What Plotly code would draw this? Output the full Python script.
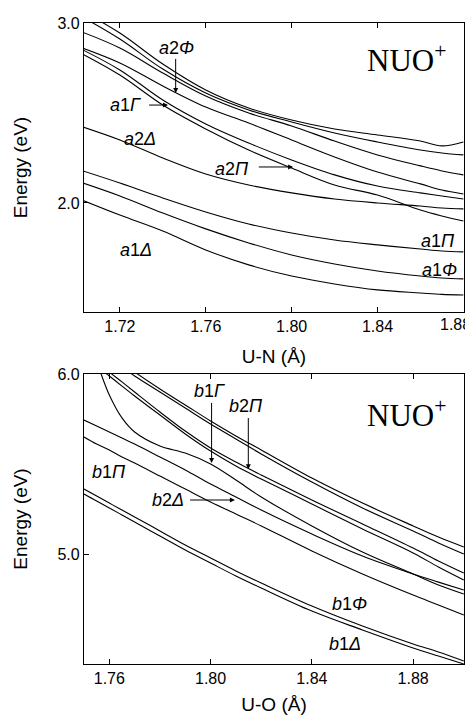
import plotly.graph_objects as go

# ---------------- data: top panel (U-N) ----------------
x_top = [1.700, 1.72, 1.74, 1.76, 1.78, 1.80, 1.82, 1.84, 1.86, 1.87, 1.88]
top_T1 = [3.083, 2.944, 2.772, 2.628, 2.528, 2.461, 2.411, 2.378, 2.344, 2.317, 2.339]
top_T2 = [3.050, 2.911, 2.744, 2.611, 2.517, 2.450, 2.389, 2.339, 2.294, 2.278, 2.267]
top_T3 = [2.961, 2.861, 2.722, 2.594, 2.500, 2.428, 2.344, 2.267, 2.206, 2.178, 2.156]
top_a2Phi = [2.872, 2.778, 2.650, 2.533, 2.444, 2.350, 2.256, 2.172, 2.106, 2.072, 2.050]
top_a1Gam_1 = [2.867, 2.739, 2.572, 2.439, 2.333, 2.239, 2.156, 2.094, 2.056, 2.039, 2.022]
top_a1Gam_2 = [2.844, 2.711, 2.544, 2.411, 2.294, 2.194, 2.100, 2.044, 1.961, 1.928, 1.900]
top_a2Del = [2.433, 2.350, 2.250, 2.161, 2.100, 2.056, 2.022, 2.000, 1.983, 1.972, 1.967]
top_a1Pi = [2.189, 2.111, 2.028, 1.950, 1.883, 1.833, 1.794, 1.767, 1.744, 1.733, 1.728]
top_a1Phi = [2.122, 2.039, 1.944, 1.856, 1.778, 1.711, 1.661, 1.622, 1.594, 1.583, 1.578]
top_a1Del = [2.028, 1.933, 1.844, 1.739, 1.656, 1.594, 1.550, 1.517, 1.500, 1.492, 1.489]
top_series = [top_T1, top_T2, top_T3, top_a2Phi, top_a1Gam_1, top_a1Gam_2,
              top_a2Del, top_a1Pi, top_a1Phi, top_a1Del]

# ---------------- data: bottom panel (U-O) ----------------
x_bot = [1.75, 1.755, 1.76, 1.765, 1.77, 1.78, 1.79, 1.80, 1.81, 1.82, 1.84, 1.86, 1.88, 1.89, 1.90]
bot_B1 = [6.211, 6.161, 6.111, 6.061, 6.011, 5.917, 5.828, 5.739, 5.656, 5.578, 5.422, 5.283, 5.156, 5.094, 5.039]
bot_B2 = [6.189, 6.139, 6.089, 6.039, 5.989, 5.900, 5.811, 5.722, 5.639, 5.556, 5.400, 5.256, 5.128, 5.061, 5.000]
bot_b2Pi_1 = [6.133, 6.072, 6.011, 5.956, 5.900, 5.789, 5.683, 5.589, 5.511, 5.439, 5.300, 5.167, 5.033, 4.961, 4.894]
bot_b2Pi_2 = [6.106, 6.044, 5.989, 5.933, 5.878, 5.772, 5.667, 5.572, 5.489, 5.417, 5.278, 5.139, 5.006, 4.928, 4.856]
bot_b1Gam = [6.244, 6.067, 5.883, 5.756, 5.678, 5.600, 5.561, 5.500, 5.411, 5.317, 5.156, 5.011, 4.889, 4.828, 4.778]
bot_b2Del = [5.744, 5.711, 5.678, 5.644, 5.611, 5.539, 5.467, 5.389, 5.317, 5.244, 5.111, 4.989, 4.889, 4.844, 4.800]
bot_b1Pi = [5.650, 5.611, 5.578, 5.539, 5.506, 5.433, 5.361, 5.289, 5.222, 5.156, 5.017, 4.889, 4.772, 4.717, 4.661]
bot_b1Phi = [5.361, 5.322, 5.283, 5.244, 5.206, 5.128, 5.050, 4.978, 4.906, 4.839, 4.711, 4.600, 4.500, 4.456, 4.406]
bot_b1Del = [5.333, 5.294, 5.256, 5.217, 5.178, 5.100, 5.022, 4.950, 4.878, 4.811, 4.683, 4.578, 4.478, 4.433, 4.389]
bot_series = [bot_B1, bot_B2, bot_b2Pi_1, bot_b2Pi_2, bot_b1Gam, bot_b2Del,
              bot_b1Pi, bot_b1Phi, bot_b1Del]

# axis ticks (the last top tick label is drawn separately so it stays inside the page)
top_xticks = [1.72, 1.76, 1.80, 1.84, 1.88]
top_xticklabels = ["1.72", "1.76", "1.80", "1.84", ""]
top_last_label = "1.88"
top_yticks = [2.0, 3.0]
top_yticklabels = ["2.0", "3.0"]
top_right_ticks = [3.0, 2.722, 2.444, 2.167, 1.889, 1.611]
bot_xticks = [1.76, 1.80, 1.84, 1.88]
bot_xticklabels = ["1.76", "1.80", "1.84", "1.88"]
bot_yticks = [5.0, 6.0]
bot_yticklabels = ["5.0", "6.0"]
bot_right_ticks = [6.0, 5.439, 4.878]

FONT = "Liberation Sans, Arial, sans-serif"
SERIF = "Liberation Serif, Times New Roman, serif"

fig = go.Figure()
for s in top_series:
    fig.add_trace(go.Scatter(x=x_top, y=s, mode="lines", xaxis="x", yaxis="y",
                             line=dict(color="black", width=1.1, shape="spline", smoothing=1.0),
                             showlegend=False, hoverinfo="skip"))
for s in bot_series:
    fig.add_trace(go.Scatter(x=x_bot, y=s, mode="lines", xaxis="x2", yaxis="y2",
                             line=dict(color="black", width=1.1, shape="spline", smoothing=1.0),
                             showlegend=False, hoverinfo="skip"))

top_dom = [0.5491, 1.0]
bot_dom = [0.0, 0.4524]

common_x = dict(showgrid=False, zeroline=False, ticks="inside", ticklen=5, tickwidth=1,
                tickcolor="black", showline=True, linecolor="black", linewidth=1.3,
                mirror="ticks", automargin=False,
                tickfont=dict(family=FONT, size=16, color="black"))
common_y = dict(showgrid=False, zeroline=False, ticks="inside", ticklen=5, tickwidth=1,
                tickcolor="black", showline=True, linecolor="black", linewidth=1.3,
                mirror=True, automargin=False,
                tickfont=dict(family=FONT, size=16, color="black"))
title_font = dict(family=FONT, size=19, color="black")

# page body has an 8px default margin, so the figure is sized to fit the 473x718 window
fig.update_layout(
    width=465, height=710,
    margin=dict(l=76, r=9, t=15, b=54),
    plot_bgcolor="white", paper_bgcolor="white",
    xaxis=dict(domain=[0, 1], range=[1.7033, 1.8803], anchor="y",
               tickvals=top_xticks, ticktext=top_xticklabels,
               title=dict(text="U-N (Å)", font=title_font, standoff=15),
               **common_x),
    yaxis=dict(domain=top_dom, range=[1.394, 3.0], anchor="x",
               tickvals=top_yticks, ticktext=top_yticklabels,
               title=dict(text="Energy (eV)", font=title_font, standoff=24),
               **common_y),
    yaxis3=dict(overlaying="y", side="right", anchor="x", range=[1.394, 3.0],
                tickvals=top_right_ticks, showticklabels=False, ticks="inside", ticklen=5,
                tickcolor="black", showgrid=False, zeroline=False, showline=False,
                automargin=False),
    xaxis2=dict(domain=[0, 1], range=[1.75, 1.9001], anchor="y2",
                tickvals=bot_xticks, ticktext=bot_xticklabels,
                title=dict(text="U-O (Å)", font=title_font, standoff=11),
                **common_x),
    yaxis2=dict(domain=bot_dom, range=[4.389, 6.0], anchor="x2",
                tickvals=bot_yticks, ticktext=bot_yticklabels,
                title=dict(text="Energy (eV)", font=title_font, standoff=24),
                **common_y),
    yaxis4=dict(overlaying="y2", side="right", anchor="x2", range=[4.389, 6.0],
                tickvals=bot_right_ticks, showticklabels=False, ticks="inside", ticklen=5,
                tickcolor="black", showgrid=False, zeroline=False, showline=False,
                automargin=False),
)

# last tick label of the top x axis, kept inside the page
fig.add_annotation(text=top_last_label, xref="paper", yref="paper",
                   x=1.0 + 9 / 380, y=top_dom[0], xanchor="right", yanchor="top",
                   yshift=-2, showarrow=False,
                   font=dict(family=FONT, size=16, color="black"))

lab_font = dict(family=FONT, size=18, color="black")

def label(text, x, y, xr, yr, xanchor="center"):
    fig.add_annotation(text=text, x=x, y=y, xref=xr, yref=yr, showarrow=False,
                       font=lab_font, xanchor=xanchor, yanchor="middle")

def arrow(x0, y0, x1, y1, xr, yr):
    fig.add_annotation(text=" ", x=x1, y=y1, ax=x0, ay=y0, xref=xr, yref=yr,
                       axref=xr, ayref=yr, showarrow=True, arrowhead=2,
                       arrowsize=1, arrowwidth=1, arrowcolor="black",
                       font=dict(size=2))

# top panel labels
label("<i>a</i>2<i>Φ</i>", 1.7466, 2.861, "x", "y")
arrow(1.746, 2.817, 1.746, 2.611, "x", "y")
label("<i>a</i>1<i>Γ</i>", 1.7224, 2.544, "x", "y")
arrow(1.7327, 2.544, 1.7424, 2.544, "x", "y")
label("<i>a</i>2<i>Δ</i>", 1.7296, 2.356, "x", "y")
label("<i>a</i>2<i>Π</i>", 1.7721, 2.189, "x", "y")
arrow(1.7838, 2.200, 1.8007, 2.200, "x", "y")
label("<i>a</i>1<i>Π</i>", 1.8683, 1.789, "x", "y")
label("<i>a</i>1<i>Φ</i>", 1.8687, 1.628, "x", "y")
label("<i>a</i>1<i>Δ</i>", 1.7275, 1.739, "x", "y")
fig.add_annotation(text="NUO<sup>+</sup>", x=1.8342, y=2.80, xref="x", yref="y",
                   showarrow=False, xanchor="left", yanchor="middle",
                   font=dict(family=SERIF, size=31, color="black"))

# bottom panel labels
label("<i>b</i>1<i>Γ</i>", 1.7994, 5.906, "x2", "y2")
arrow(1.8004, 5.856, 1.8004, 5.506, "x2", "y2")
label("<i>b</i>2<i>Π</i>", 1.8140, 5.822, "x2", "y2")
arrow(1.8149, 5.772, 1.8149, 5.471, "x2", "y2")
label("<i>b</i>1<i>Π</i>", 1.7599, 5.456, "x2", "y2")
label("<i>b</i>2<i>Δ</i>", 1.7832, 5.300, "x2", "y2")
arrow(1.7911, 5.300, 1.8096, 5.300, "x2", "y2")
label("<i>b</i>1<i>Φ</i>", 1.8550, 4.722, "x2", "y2")
label("<i>b</i>1<i>Δ</i>", 1.8531, 4.500, "x2", "y2")
fig.add_annotation(text="NUO<sup>+</sup>", x=1.861, y=5.78, xref="x2", yref="y2",
                   showarrow=False, xanchor="left", yanchor="middle",
                   font=dict(family=SERIF, size=31, color="black"))

fig.write_html("out.html")
